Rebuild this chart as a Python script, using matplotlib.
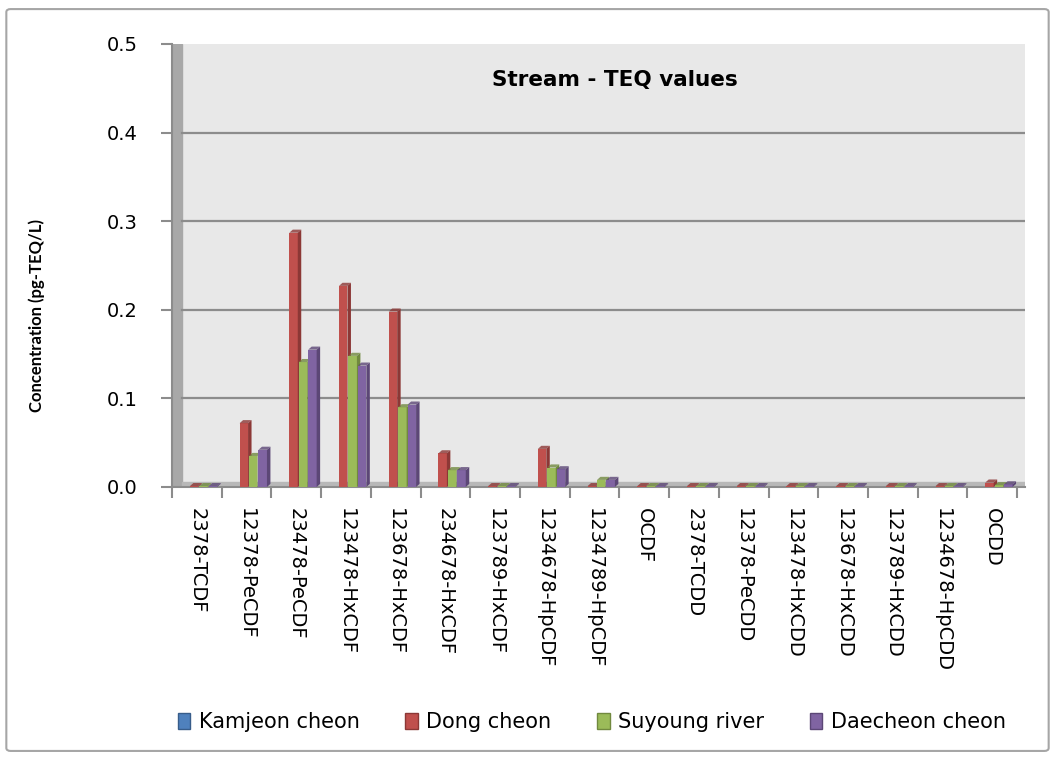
import matplotlib
matplotlib.use('Agg')
import matplotlib.pyplot as plt
from matplotlib.patches import Polygon, Patch, FancyBboxPatch
import numpy as np

categories = ['2378-TCDF', '12378-PeCDF', '23478-PeCDF', '123478-HxCDF', '123678-HxCDF',
              '234678-HxCDF', '123789-HxCDF', '1234678-HpCDF', '1234789-HpCDF', 'OCDF',
              '2378-TCDD', '12378-PeCDD', '123478-HxCDD', '123678-HxCDD', '123789-HxCDD',
              '1234678-HpCDD', 'OCDD']
kamjeon = [0.0, 0.0, 0.0, 0.0, 0.0, 0.0, 0.0, 0.0, 0.0, 0.0, 0.0, 0.0, 0.0, 0.0, 0.0, 0.0, 0.0]
dong = [0.001, 0.072, 0.287, 0.227, 0.198, 0.038, 0.001, 0.043, 0.001, 0.001,
        0.001, 0.001, 0.001, 0.001, 0.001, 0.001, 0.005]
suyoung = [0.001, 0.035, 0.141, 0.148, 0.090, 0.019, 0.001, 0.022, 0.008, 0.001,
           0.001, 0.001, 0.001, 0.001, 0.001, 0.001, 0.002]
daecheon = [0.001, 0.042, 0.155, 0.137, 0.093, 0.019, 0.001, 0.020, 0.008, 0.001,
            0.001, 0.001, 0.001, 0.001, 0.001, 0.001, 0.003]

series = [('Kamjeon cheon', kamjeon, '#4f81bd', '#385d8a'),
          ('Dong cheon', dong, '#c0504d', '#8c3836'),
          ('Suyoung river', suyoung, '#9bbb59', '#71893f'),
          ('Daecheon cheon', daecheon, '#8064a2', '#5c4776')]

plt.rcParams['font.family'] = ['DejaVu Sans']

fig = plt.figure(figsize=(10.55, 7.57), dpi=100)
fig.patches.append(FancyBboxPatch((0.006, 0.008), 0.988, 0.98, boxstyle='round,pad=0,rounding_size=0.004',
                                  transform=fig.transFigure, fc='white', ec='#a6a6a6', lw=1.5, zorder=-1))
ax = fig.add_axes([172 / 1055, 1 - 487 / 757, 853 / 1055, 443 / 757])
ax.set_facecolor('#e8e8e8')
ax.set_xlim(-0.5, 16.66)
ax.set_ylim(0, 0.5)

x = np.arange(len(categories))
width = 0.19
dx, dy = 0.07, 0.0035

# left wall, floor and gridlines
ax.axvspan(-0.5, -0.3, color='#a8a8a8', zorder=1)
ax.axhspan(0, 0.006, xmin=0.012, color='#b8b8b8', zorder=1)
for g in [0.1, 0.2, 0.3, 0.4]:
    ax.axhline(g, xmin=0.012, color='#8c8c8c', lw=1.6, zorder=1)

for i, (name, vals, col, dark) in enumerate(series):
    pos = x + (i - 1.5) * width + 0.05
    for px, v in zip(pos, vals):
        if v <= 0:
            continue
        x0, x1 = px - width / 2, px + width / 2 - 0.02
        ax.bar(px - 0.01, v, width=width - 0.02, color=col, zorder=3)
        ax.add_patch(Polygon([(x1, 0), (x1 + dx, dy), (x1 + dx, v + dy), (x1, v)],
                             closed=True, fc=dark, ec='none', zorder=3))
        ax.add_patch(Polygon([(x0, v), (x0 + dx, v + dy), (x1 + dx, v + dy), (x1, v)],
                             closed=True, fc=dark, ec='none', alpha=0.8, zorder=3))

for s in ['top', 'right']:
    ax.spines[s].set_visible(False)
ax.spines['left'].set_color('#8c8c8c')
ax.spines['bottom'].set_color('#8c8c8c')
ax.spines['left'].set_linewidth(1.5)
ax.spines['bottom'].set_linewidth(1.5)

ax.set_yticks([0.0, 0.1, 0.2, 0.3, 0.4, 0.5])
ax.set_yticklabels(['0.0', '0.1', '0.2', '0.3', '0.4', '0.5'], fontsize=14)
ax.tick_params(axis='y', length=8, color='#8c8c8c', width=1.5, pad=17)
ax.set_xticks(x)
ax.set_xticklabels(categories, rotation=-90, fontsize=14)
ax.tick_params(axis='x', length=0, pad=15)
ax.set_xticks(np.arange(len(categories) + 1) - 0.5, minor=True)
ax.tick_params(axis='x', which='minor', length=8, color='#8c8c8c', width=1.5)

ax.set_ylabel('Concentration (pg-TEQ/L)', fontsize=12, fontweight='bold', family=['Lato', 'DejaVu Sans'])
ax.yaxis.set_label_coords(-0.149, 0.388)
ax.text(0.519, 0.919, 'Stream - TEQ values', transform=ax.transAxes, ha='center', va='center',
        fontsize=15.5, fontweight='bold', zorder=5)

handles = [Patch(fc=col, ec=dark, label=name) for name, vals, col, dark in series]
fig.legend(handles=handles, loc='center', bbox_to_anchor=(0.561, 0.046), ncol=4, frameon=False,
           fontsize=15, handlelength=0.6, handleheight=0.8, handletextpad=0.4, columnspacing=2.2)

fig.savefig('out.png', dpi=100)
